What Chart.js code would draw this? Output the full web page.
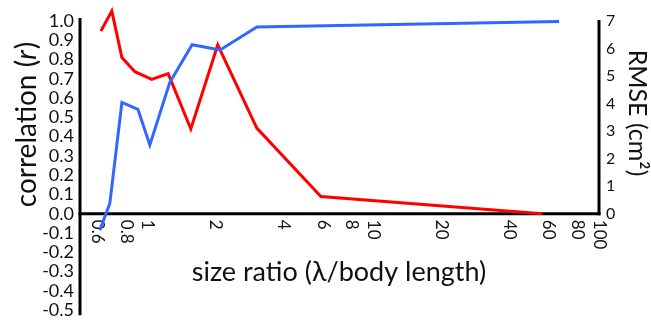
<!DOCTYPE html>
<html lang="en">
<head>
    <meta charset="UTF-8">
    <title>Correlation and RMSE vs size ratio</title>
    <style>
        html, body {
            margin: 0;
            padding: 0;
            background: #ffffff;
        }
        .wrap {
            width: 651px;
            height: 327px;
        }
    </style>
    <script src="https://cdn.jsdelivr.net/npm/chart.js"></script>
</head>
<body>
    <div class="wrap"><canvas id="chart" width="651" height="327"></canvas></div>

    <script>
        // correlation (left axis, blue)
        const corrX = [0.612, 0.678, 0.767, 0.903, 1.02, 1.25, 1.57, 2.09, 3.04, 66.5];
        const corrY = [-0.085, 0.054, 0.578, 0.542, 0.357, 0.681, 0.877, 0.85, 0.969, 0.997];

        // RMSE (right axis, red)
        const rmseX = [0.619, 0.692, 0.767, 0.876, 1.04, 1.23, 1.55, 2.04, 3.04, 5.85, 56];
        const rmseY = [6.64, 7.36, 5.67, 5.16, 4.88, 5.09, 3.08, 6.13, 3.11, 0.63, 0];

        // axis ticks
        const xTicks = [0.6, 0.8, 1, 2, 4, 6, 8, 10, 20, 40, 60, 80, 100];
        const xTickLabels = ['0.6', '0.8', '1', '2', '4', '6', '8', '10', '20', '40', '60', '80', '100'];

        const FONT = 'Lato, "Open Sans", sans-serif';
        const INK = '#111111';

        function toPoints(xs, ys) {
            return xs.map((x, i) => ({ x: x, y: ys[i] }));
        }

        // axes lines, x tick labels and titles
        const axisDecor = {
            id: 'axisDecor',
            beforeDatasetsDraw(chart) {
                const ctx = chart.ctx;
                const { x, y, y2 } = chart.scales;
                const x0 = x.getPixelForValue(0.5);
                const x1 = x.getPixelForValue(100);
                const yZero = y.getPixelForValue(0);

                ctx.save();
                ctx.strokeStyle = '#000000';
                ctx.lineWidth = 3;
                ctx.lineCap = 'butt';

                // left axis
                ctx.beginPath();
                ctx.moveTo(x0, y.getPixelForValue(1.0) - 3);
                ctx.lineTo(x0, y.getPixelForValue(-0.5) + 5);
                ctx.stroke();

                // right axis (0..7 only)
                ctx.beginPath();
                ctx.moveTo(x1, y2.getPixelForValue(7) - 1);
                ctx.lineTo(x1, y2.getPixelForValue(0) + 1.5);
                ctx.stroke();

                // x axis at r = 0
                ctx.beginPath();
                ctx.moveTo(x0 - 1.5, yZero);
                ctx.lineTo(x1 + 1.5, yZero);
                ctx.stroke();

                // x tick labels, turned clockwise
                ctx.fillStyle = INK;
                ctx.font = '17px ' + FONT;
                ctx.textAlign = 'left';
                ctx.textBaseline = 'middle';
                xTicks.forEach((v, i) => {
                    ctx.save();
                    ctx.translate(x.getPixelForValue(v), yZero + 6);
                    ctx.rotate(Math.PI / 2);
                    ctx.fillText(xTickLabels[i], 0, 0);
                    ctx.restore();
                });

                // x title
                ctx.font = '27px ' + FONT;
                ctx.textAlign = 'center';
                ctx.fillText('size ratio (\u03bb/body length)', 339, 272);

                // left title with italic r
                ctx.save();
                ctx.translate(27, 125);
                ctx.rotate(-Math.PI / 2);
                const partA = 'correlation (';
                const partB = 'r';
                const partC = ')';
                ctx.font = '28px ' + FONT;
                const wA = ctx.measureText(partA).width;
                const wC = ctx.measureText(partC).width;
                ctx.font = 'italic 28px ' + FONT;
                const wB = ctx.measureText(partB).width;
                let pos = -(wA + wB + wC) / 2;
                ctx.textAlign = 'left';
                ctx.font = '28px ' + FONT;
                ctx.fillText(partA, pos, 0);
                pos += wA;
                ctx.font = 'italic 28px ' + FONT;
                ctx.fillText(partB, pos, 0);
                pos += wB + 1;
                ctx.font = '28px ' + FONT;
                ctx.fillText(partC, pos, 0);
                ctx.restore();

                // right title
                ctx.save();
                ctx.translate(637, 113);
                ctx.rotate(Math.PI / 2);
                ctx.font = '25px ' + FONT;
                ctx.textAlign = 'center';
                ctx.fillText('RMSE (cm\u00b2)', 0, 0);
                ctx.restore();

                ctx.restore();
            }
        };

        const ctx = document.getElementById('chart').getContext('2d');
        new Chart(ctx, {
            type: 'line',
            data: {
                datasets: [
                    {
                        label: 'correlation',
                        data: toPoints(corrX, corrY),
                        yAxisID: 'y',
                        borderColor: '#3366ff',
                        borderWidth: 3,
                        pointRadius: 0,
                        tension: 0,
                        fill: false,
                        clip: false
                    },
                    {
                        label: 'RMSE',
                        data: toPoints(rmseX, rmseY),
                        yAxisID: 'y2',
                        borderColor: '#ff0000',
                        borderWidth: 3,
                        pointRadius: 0,
                        tension: 0,
                        fill: false,
                        clip: false
                    }
                ]
            },
            options: {
                responsive: false,
                animation: false,
                layout: { padding: { top: 21, bottom: 14, left: 0, right: 0 } },
                plugins: {
                    legend: { display: false },
                    tooltip: { enabled: false }
                },
                scales: {
                    x: {
                        type: 'logarithmic',
                        min: 0.5,
                        max: 100,
                        display: false
                    },
                    y: {
                        position: 'left',
                        min: -0.5,
                        max: 1.0,
                        grid: { display: false, drawTicks: false },
                        border: { display: false },
                        ticks: {
                            stepSize: 0.1,
                            autoSkip: false,
                            padding: 6,
                            color: INK,
                            font: { family: FONT, size: 18 },
                            callback: (v) => v.toFixed(1)
                        },
                        afterFit: (scale) => { scale.width = 80; }
                    },
                    y2: {
                        position: 'right',
                        min: -3.5,
                        max: 7,
                        grid: { display: false, drawTicks: false },
                        border: { display: false },
                        ticks: {
                            stepSize: 1,
                            autoSkip: false,
                            padding: 7,
                            color: INK,
                            font: { family: FONT, size: 16 },
                            callback: (v) => (v >= 0 && Number.isInteger(v)) ? String(v) : null
                        },
                        afterFit: (scale) => { scale.width = 52; }
                    }
                }
            },
            plugins: [axisDecor]
        });
    </script>
</body>
</html>
